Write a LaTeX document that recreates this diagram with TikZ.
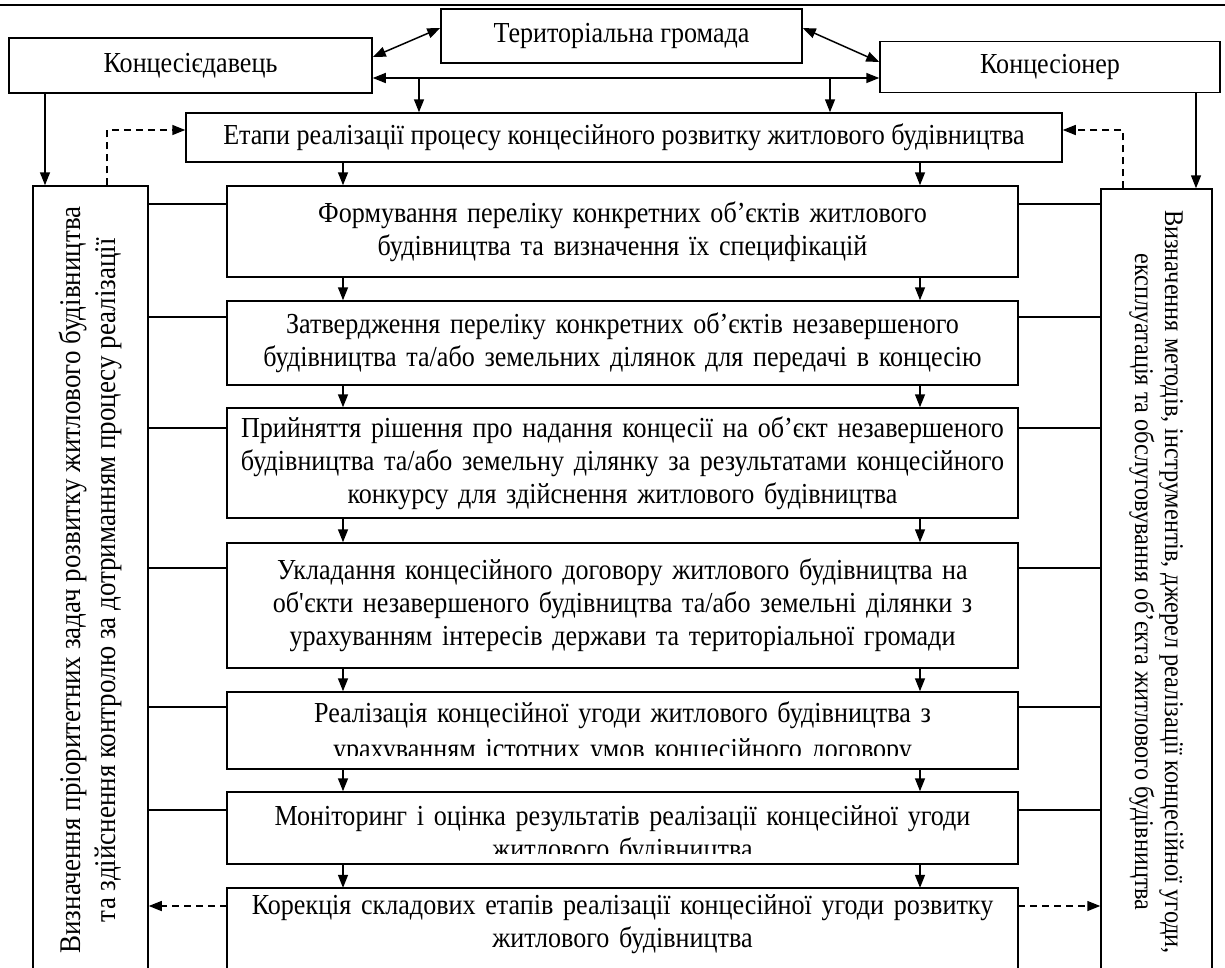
\documentclass[tikz,border=0pt]{standalone}
\usepackage{fontspec}
\setmainfont{Liberation Serif}[FakeStretch=0.9]
\usetikzlibrary{arrows.meta}

\tikzset{
  box/.style={draw, line width=1.5pt, inner sep=0pt, align=center},
  stage/.style={box, text width=791pt},
  stagetext/.style={inner sep=0pt, text width=791pt, align=center},
  link/.style={line width=1.5pt},
  flow/.style={line width=1.5pt, -{Triangle[length=13pt,width=10pt]}},
  both/.style={line width=1.5pt, {Triangle[length=13pt,width=10pt]}-{Triangle[length=13pt,width=10pt]}},
  back/.style={flow, dash pattern=on 7pt off 5pt},
}

\begin{document}
\begin{tikzpicture}[x=1pt, y=-1pt, font=\fontsize{29}{33}\selectfont]
  \clip (0,0) rectangle (1225,967);
  \draw[line width=1.5pt] (0,5) -- (1225,5); % top rule

  % participants
  \node[box, minimum width=361pt, minimum height=54pt] (grom) at (621.5,36) {Територіальна громада};
  \node[box, minimum width=363pt, minimum height=55pt] (dav) at (190.5,65.5) {Концесієдавець};
  \node[box, minimum width=340pt, minimum height=51pt] (kon) at (1050,67) {Концесіонер};
  \node[box, minimum width=876pt, minimum height=49pt] (etapy) at (624,137.5) {Етапи реалізації процесу концесійного розвитку житлового будівництва};

  % side boxes
  \node[box, minimum width=115pt, minimum height=788pt] (lbox) at (90.5,580)
    {\rotatebox{90}{\parbox{780pt}{\centering\fontsize{30}{35}\selectfont
      Визначення пріоритетних задач розвитку житлового будівництва\\
      та здійснення контролю за дотриманням процесу реалізації}}};
  \node[box, minimum width=111pt, minimum height=786pt] (rbox) at (1156.5,582)
    {\rotatebox{-90}{\parbox{780pt}{\centering\fontsize{27}{30}\selectfont
      Визначення методів, інструментів, джерел реалізації концесійної угоди,\\
      експлуатація та обслуговування об’єкта житлового будівництва}}};

  % stages
  \node[stage, minimum height=91pt] (s1) at (622.5,231.5)
    {Формування переліку конкретних об’єктів житлового\\ будівництва та визначення їх специфікацій};
  \node[stage, minimum height=84pt] (s2) at (622.5,343)
    {Затвердження переліку конкретних об’єктів незавершеного\\ будівництва та/або земельних ділянок для передачі в концесію};
  \node[stage, minimum height=110pt] (s3) at (622.5,463)
    {Прийняття рішення про надання концесії на об’єкт незавершеного\\ будівництва та/або земельну ділянку за результатами концесійного\\ конкурсу для здійснення житлового будівництва};
  \node[stage, minimum height=125pt] (s4) at (622.5,605.5)
    {Укладання концесійного договору житлового будівництва на\\ об\textquotesingle єкти незавершеного будівництва та/або земельні ділянки з\\ урахуванням інтересів держави та територіальної громади};
  \node[stage, minimum height=77pt] (s5) at (622.5,730.5) {};
  \node[stage, minimum height=72pt] (s6) at (622.5,828) {};
  \node[stagetext, minimum height=72pt] (s7) at (622.5,924)
    {Корекція складових етапів реалізації концесійної угоди розвитку\\ житлового будівництва};
  \draw[link] ([yshift=-60pt]s7.south west) |- (s7.north east) -- ([yshift=-60pt]s7.south east); % open frame

  % texts cut by the lower edge
  \begin{scope}
    \clip (s5.north west) rectangle ([yshift=14pt]s5.south east);
    \node[stagetext, anchor=base, font=\fontsize{29}{36}\selectfont] (s5t) at (622.5,722)
      {Реалізація концесійної угоди житлового будівництва з\\ урахуванням істотних умов концесійного договору};
  \end{scope}
  \begin{scope}
    \clip (s6.north west) rectangle ([yshift=11pt]s6.south east);
    \node[stagetext, anchor=base] (s6t) at (622.5,825)
      {Моніторинг і оцінка результатів реалізації концесійної угоди\\ житлового будівництва};
  \end{scope}

  % helper coordinates
  \coordinate (hline) at (0,78);
  \coordinate (t1) at (419,78);
  \coordinate (t2) at (830,78);
  \coordinate (dx) at (45,0);
  \coordinate (kx) at (1196,0);
  \coordinate (lx) at (107,0);
  \coordinate (rx) at (1123,0);
  \coordinate (ax) at (343,0);
  \coordinate (bx) at (920,0);
  \coordinate (ky) at (0,906);

  % links at the top
  \draw[both] ([yshift=8.5pt]dav.east) -- ([yshift=8pt]grom.west);
  \draw[both] ([yshift=8pt]grom.east) -- ([yshift=5pt]kon.west);
  \draw[both] (dav.east |- hline) -- (kon.west |- hline);
  \draw[flow] (t1) -- (t1 |- etapy.north);
  \draw[flow] (t2) -- (t2 |- etapy.north);
  \draw[flow] (dav.south -| dx) -- (lbox.north -| dx);
  \draw[flow] (kon.south -| kx) -- (rbox.north -| kx);
  \draw[back] (lbox.north -| lx) |- ([yshift=7.5pt]etapy.west);
  \draw[back] (rbox.north -| rx) |- ([yshift=7.5pt]etapy.east);

  % stage to stage
  \foreach \a/\b in {etapy/s1, s1/s2, s2/s3, s3/s4, s4/s5, s5/s6, s6/s7} {
    \draw[flow] (\a.south -| ax) -- (\b.north -| ax);
    \draw[flow] (\a.south -| bx) -- (\b.north -| bx);
  }

  % side links
  \foreach \s/\y in {s1/204, s2/317, s3/428, s4/568, s5/707, s6/810} {
    \draw[link] (lbox.east |- 0,\y) -- (\s.west |- 0,\y);
    \draw[link] (\s.east |- 0,\y) -- (rbox.west |- 0,\y);
  }
  \draw[back] (s7.west |- ky) -- (lbox.east |- ky);
  \draw[back] (s7.east |- ky) -- (rbox.west |- ky);
\end{tikzpicture}
\end{document}
